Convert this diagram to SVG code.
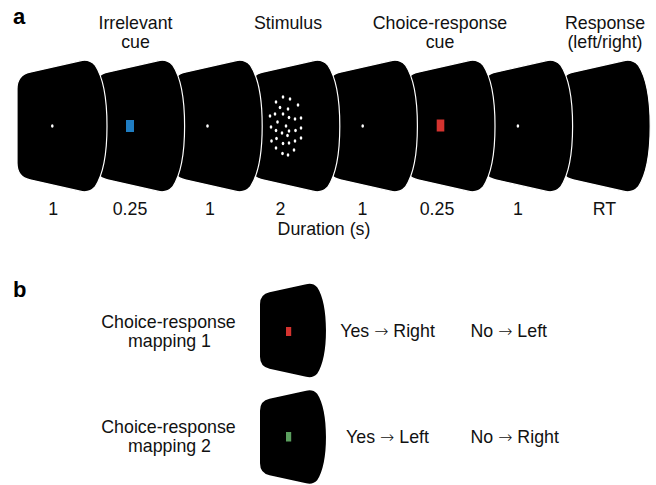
<svg xmlns="http://www.w3.org/2000/svg" xmlns:xlink="http://www.w3.org/1999/xlink" width="656" height="485" viewBox="0 0 656 485">
<style>
.t{font-family:"Liberation Sans",Arial,Helvetica,sans-serif;font-size:17.8px;fill:#111;text-anchor:middle}
.s{text-anchor:start}
.ar{font-family:"DejaVu Sans",sans-serif;font-weight:200;font-size:17px}
.lbl{font-family:"Liberation Sans",Arial,Helvetica,sans-serif;font-size:22px;font-weight:bold;fill:#000}
.scr{fill:#000;stroke:#fff;stroke-width:1.2}
.d{fill:#fff}
</style>
<defs>
<path id="screen" d="M0,30 Q0,16 13,13.2 L63,1.8 Q72,-0.6 78,6 C86,18 90,40 90,67 C90,94 86,116 78,128 Q72,134.6 63,132.2 L13,120.8 Q0,118 0,104 Z"/>
</defs>
<rect width="656" height="485" fill="#fff"/>
<text class="lbl" x="13" y="24">a</text>
<text class="lbl" x="13" y="297">b</text>
<g id="headers">
<text class="t" x="135.5" y="28.5">Irrelevant</text>
<text class="t" x="135.5" y="47.5">cue</text>
<text class="t" x="288" y="28.5">Stimulus</text>
<text class="t" x="440" y="28.5">Choice-response</text>
<text class="t" x="440" y="47.5">cue</text>
<text class="t" x="605" y="28.5">Response</text>
<text class="t" x="605" y="47.5">(left/right)</text>
</g>
<g id="screens">
<g id="screen8"><use href="#screen" class="scr" x="560.2" y="59"/></g>
<g id="screen7"><use href="#screen" class="scr" x="482.6" y="59"/><ellipse class="d" cx="517.9" cy="126" rx="1.3" ry="1.8"/></g>
<g id="screen6"><use href="#screen" class="scr" x="405" y="59"/><rect x="436.7" y="119.5" width="7.6" height="12" fill="#d4332f"/></g>
<g id="screen5"><use href="#screen" class="scr" x="327.4" y="59"/><ellipse class="d" cx="362.7" cy="126" rx="1.3" ry="1.8"/></g>
<g id="screen4"><use href="#screen" class="scr" x="249.8" y="59"/>
<g class="d">
<ellipse cx="283" cy="97" rx="1.3" ry="1.8"/><ellipse cx="290" cy="99" rx="1.3" ry="1.8"/><ellipse cx="276" cy="102" rx="1.3" ry="1.8"/><ellipse cx="298" cy="105" rx="1.3" ry="1.8"/>
<ellipse cx="280" cy="107.5" rx="1.3" ry="1.8"/><ellipse cx="288" cy="109" rx="1.3" ry="1.8"/><ellipse cx="270" cy="116" rx="1.3" ry="1.8"/><ellipse cx="275" cy="114" rx="1.3" ry="1.8"/>
<ellipse cx="283" cy="114" rx="1.3" ry="1.8"/><ellipse cx="289" cy="117.5" rx="1.3" ry="1.8"/><ellipse cx="295" cy="119" rx="1.3" ry="1.8"/><ellipse cx="301" cy="118" rx="1.3" ry="1.8"/>
<ellipse cx="277.5" cy="122" rx="1.3" ry="1.8"/><ellipse cx="286" cy="126" rx="1.3" ry="1.8"/><ellipse cx="271" cy="127" rx="1.3" ry="1.8"/><ellipse cx="276" cy="130.5" rx="1.3" ry="1.8"/>
<ellipse cx="282" cy="133" rx="1.3" ry="1.8"/><ellipse cx="289" cy="131" rx="1.3" ry="1.8"/><ellipse cx="295.5" cy="130.5" rx="1.3" ry="1.8"/><ellipse cx="301" cy="128" rx="1.3" ry="1.8"/>
<ellipse cx="271.5" cy="141" rx="1.3" ry="1.8"/><ellipse cx="276.5" cy="138.5" rx="1.3" ry="1.8"/><ellipse cx="287.5" cy="135.5" rx="1.3" ry="1.8"/><ellipse cx="283" cy="143.5" rx="1.3" ry="1.8"/>
<ellipse cx="289" cy="143" rx="1.3" ry="1.8"/><ellipse cx="295" cy="141" rx="1.3" ry="1.8"/><ellipse cx="301" cy="138" rx="1.3" ry="1.8"/><ellipse cx="276" cy="148" rx="1.3" ry="1.8"/>
<ellipse cx="282.5" cy="153.5" rx="1.3" ry="1.8"/><ellipse cx="288" cy="155" rx="1.3" ry="1.8"/><ellipse cx="294" cy="150" rx="1.3" ry="1.8"/>
</g></g>
<g id="screen3"><use href="#screen" class="scr" x="172.2" y="59"/><ellipse class="d" cx="207.5" cy="126" rx="1.3" ry="1.8"/></g>
<g id="screen2"><use href="#screen" class="scr" x="94.6" y="59"/><rect x="126" y="120" width="8" height="12" fill="#1f7dc2"/></g>
<g id="screen1"><use href="#screen" class="scr" x="17" y="59"/><ellipse class="d" cx="52.3" cy="126" rx="1.3" ry="1.8"/></g>
</g>
<g id="durations">
<text class="t" x="53.3" y="214.5">1</text>
<text class="t" x="130" y="214.5">0.25</text>
<text class="t" x="210" y="214.5">1</text>
<text class="t" x="280.5" y="214.5">2</text>
<text class="t" x="362.5" y="214.5">1</text>
<text class="t" x="437" y="214.5">0.25</text>
<text class="t" x="518" y="214.5">1</text>
<text class="t" x="604.5" y="214.5">RT</text>
<text class="t" x="324" y="235">Duration (s)</text>
</g>
<g id="mapping1">
<text class="t" x="168.5" y="328">Choice-response</text>
<text class="t" x="169.5" y="346.5">mapping 1</text>
<g transform="translate(260,283) scale(0.733,0.709)"><use href="#screen" fill="#000"/></g>
<rect x="286" y="327" width="5.2" height="9" fill="#d4332f"/>
<text class="t" x="387.5" y="337">Yes <tspan class="ar">→</tspan> Right</text>
<text class="t s" x="470.5" y="337">No <tspan class="ar">→</tspan> Left</text>
</g>
<g id="mapping2">
<text class="t" x="168.5" y="433">Choice-response</text>
<text class="t" x="169.5" y="451.5">mapping 2</text>
<g transform="translate(260,389.5) scale(0.733,0.709)"><use href="#screen" fill="#000"/></g>
<rect x="286" y="432" width="5.2" height="9.5" fill="#5b9f5e"/>
<text class="t" x="387.5" y="443">Yes <tspan class="ar">→</tspan> Left</text>
<text class="t s" x="470.5" y="443">No <tspan class="ar">→</tspan> Right</text>
</g>
<g id="connectors"/>
</svg>
